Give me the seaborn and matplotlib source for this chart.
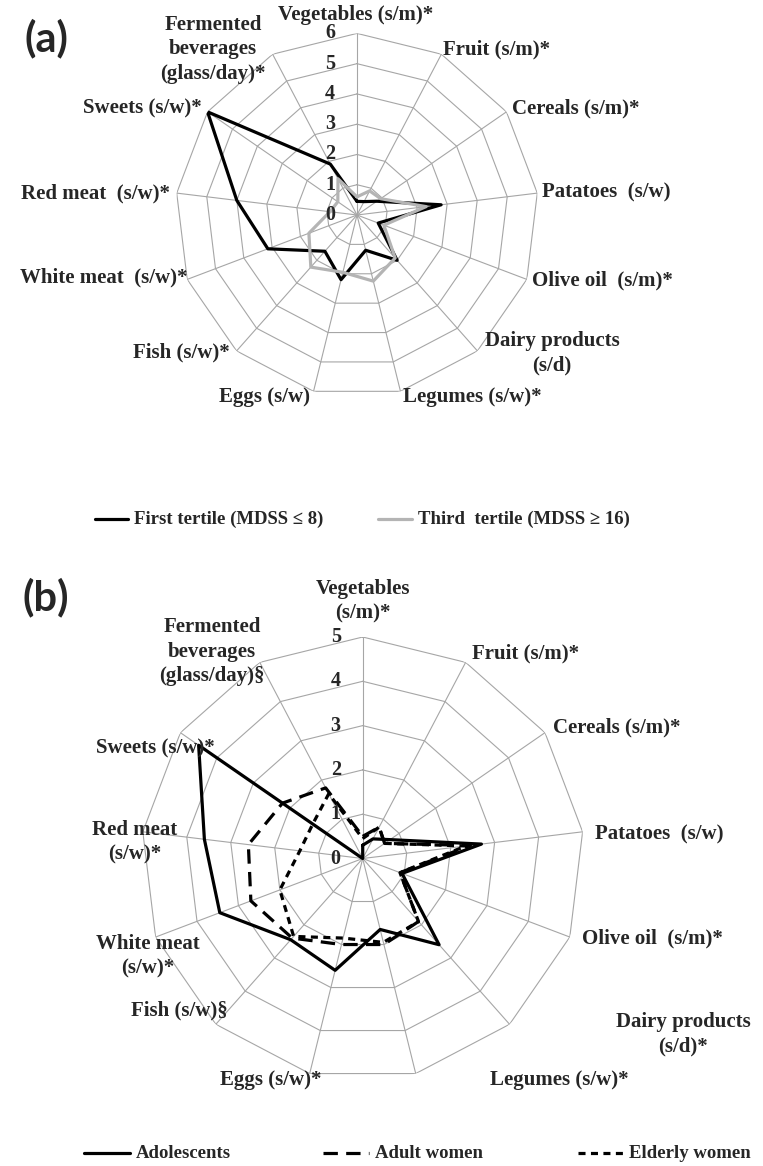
import numpy as np
import pandas as pd
import seaborn as sns
import matplotlib.pyplot as plt
from matplotlib.lines import Line2D

# ---- data ----
cats_a = ["Vegetables (s/m)*", "Fruit (s/m)*", "Cereals (s/m)*", "Patatoes  (s/w)",
          "Olive oil  (s/m)*", "Dairy products\n(s/d)", "Legumes (s/w)*", "Eggs (s/w)",
          "Fish (s/w)*", "White meat  (s/w)*", "Red meat  (s/w)*", "Sweets (s/w)*",
          "Fermented\nbeverages\n(glass/day)*"]
first_tertile = [0.45, 0.5, 0.8, 2.8, 0.75, 2.0, 1.2, 2.2, 1.6, 3.15, 4.0, 6.0, 1.9]
third_tertile = [0.6, 0.9, 0.95, 2.3, 0.95, 1.9, 2.25, 1.95, 2.3, 1.7, 0.9, 0.77, 1.35]
ticks_a = [0, 1, 2, 3, 4, 5, 6]

cats_b = ["Vegetables\n(s/m)*", "Fruit (s/m)*", "Cereals (s/m)*", "Patatoes  (s/w)",
          "Olive oil  (s/m)*", "Dairy products\n(s/d)*", "Legumes (s/w)*", "Eggs (s/w)*",
          "Fish (s/w)§", "White meat\n(s/w)*", "Red meat\n(s/w)*", "Sweets (s/w)*",
          "Fermented\nbeverages\n(glass/day)§"]
adolescents = [0.3, 0.5, 0.75, 2.7, 0.95, 2.6, 1.65, 2.6, 2.45, 3.45, 3.6, 4.5, 0.0]
adult_women = [0.5, 0.8, 0.6, 2.45, 0.9, 1.9, 2.0, 2.0, 2.4, 2.7, 2.6, 2.2, 1.8]
elderly_women = [0.45, 0.8, 0.6, 2.35, 0.9, 1.9, 1.95, 1.85, 2.35, 2.0, 1.43, 1.37, 1.65]
ticks_b = [0, 1, 2, 3, 4, 5]

# ---- layout (pixels of the 763x1166 canvas) ----
W, H = 763, 1166
GRID = "#a6a6a6"
SERIF = ["Liberation Serif", "DejaVu Serif"]

# label anchor x, y, ha  (va is always center)
pos_a = [(356, 15, "center"), (443, 49, "left"), (512, 108, "left"), (542, 192, "left"),
         (532, 280, "left"), (552, 353, "center"), (403, 397, "left"), (310, 397, "right"),
         (230, 352, "right"), (188, 277, "right"), (170, 193, "right"), (202, 108, "right"),
         (213, 49, "center")]
pos_b = [(363, 601, "center"), (472, 653, "left"), (553, 727, "left"), (595, 834, "left"),
         (582, 938, "left"), (683, 1034, "center"), (490, 1080, "left"), (322, 1080, "right"),
         (228, 1010, "right"), (148, 956, "center"), (135, 842, "center"), (215, 748, "right"),
         (212, 652, "center")]

sns.set_theme(style="white")
plt.rcParams["font.family"] = SERIF

fig = plt.figure(figsize=(W / 100, H / 100), dpi=100)


def px_axes(cx, cy, r):
    return fig.add_axes([(cx - r) / W, (H - cy - r) / H, 2 * r / W, 2 * r / H], projection="polar")


def ftext(x, y, s, **kw):
    fig.text(x / W, 1 - y / H, s, **kw)


def radar(ax, cats, ticks, df, palette, dashes, lw):
    n = len(cats)
    rmax = ticks[-1]
    theta = np.linspace(0, 2 * np.pi, n + 1)
    ax.set_theta_zero_location("N")
    ax.set_theta_direction(-1)
    ax.set_ylim(0, rmax)
    ax.grid(False)
    ax.spines["polar"].set_visible(False)
    ax.set_facecolor("none")
    for r in ticks[1:]:
        ax.plot(theta, [r] * (n + 1), color=GRID, lw=0.8, zorder=1)
    for t in theta[:-1]:
        ax.plot([t, t], [0, rmax], color=GRID, lw=0.8, zorder=1)
    sns.lineplot(data=df, x="theta", y="value", hue="group", style="group",
                 palette=palette, dashes=dashes, sort=False, estimator=None,
                 legend=False, lw=lw, ax=ax, zorder=3)
    ax.set_xticks([])
    ax.set_yticks([])
    ax.set_xlabel("")
    ax.set_ylabel("")
    for r in ticks:
        ax.annotate(str(r), xy=(0, r), xytext=(-27, 0), textcoords="offset pixels",
                    ha="center", va="center", fontsize=14.5, fontweight="bold",
                    family=SERIF, zorder=4)


def long_df(cats, series):
    rows = []
    theta = np.linspace(0, 2 * np.pi, len(cats) + 1)
    for name, vals in series.items():
        closed = list(vals) + [vals[0]]
        for t, v in zip(theta, closed):
            rows.append({"theta": t, "value": v, "group": name})
    return pd.DataFrame(rows)


# ---- chart (a) ----
ax_a = px_axes(357, 215, 181.6)
df_a = long_df(cats_a, {"First tertile (MDSS \u2264 8)": first_tertile,
                        "Third  tertile (MDSS \u2265 16)": third_tertile})
radar(ax_a, cats_a, ticks_a, df_a,
      palette=["black", "#b4b4b4"], dashes=["", ""], lw=2.3)
for lab, (x, y, ha) in zip(cats_a, pos_a):
    ftext(x, y, lab, ha=ha, va="center", multialignment="center",
          fontsize=15, fontweight="bold", linespacing=1.3)

# ---- chart (b) ----
ax_b = px_axes(362.7, 858.5, 221.5)
df_b = long_df(cats_b, {"Adolescents": adolescents,
                        "Adult women": adult_women,
                        "Elderly women": elderly_women})
radar(ax_b, cats_b, ticks_b, df_b,
      palette=["black", "black", "black"], dashes=["", (4.5, 2.6), (2.2, 1.7)], lw=2.3)
for lab, (x, y, ha) in zip(cats_b, pos_b):
    ftext(x, y, lab, ha=ha, va="center", multialignment="center",
          fontsize=15, fontweight="bold", linespacing=1.3)

# ---- panel letters ----
ftext(46, 38, "(a)", ha="center", va="center", fontsize=30, fontweight="bold", family="Lato")
ftext(46, 597, "(b)", ha="center", va="center", fontsize=30, fontweight="bold", family="Lato")


# ---- legends ----
def legend_item(x0, x1, y, text, color="black", ls="-"):
    fig.add_artist(Line2D([x0 / W, x1 / W], [1 - y / H, 1 - y / H], color=color, lw=2.3,
                          linestyle=ls, transform=fig.transFigure))
    ftext(x1 + 6, y, text, ha="left", va="center", fontsize=13.5, fontweight="bold")


legend_item(95, 128, 519, "First tertile (MDSS \u2264 8)")
legend_item(378, 412, 519, "Third  tertile (MDSS \u2265 16)", color="#b4b4b4")
legend_item(84, 130, 1153, "Adolescents")
legend_item(323, 369, 1153, "Adult women", ls=(0, (4.5, 2.6)))
legend_item(578, 623, 1153, "Elderly women", ls=(0, (2.2, 1.7)))

fig.savefig("out.png", dpi=100, facecolor="white")
